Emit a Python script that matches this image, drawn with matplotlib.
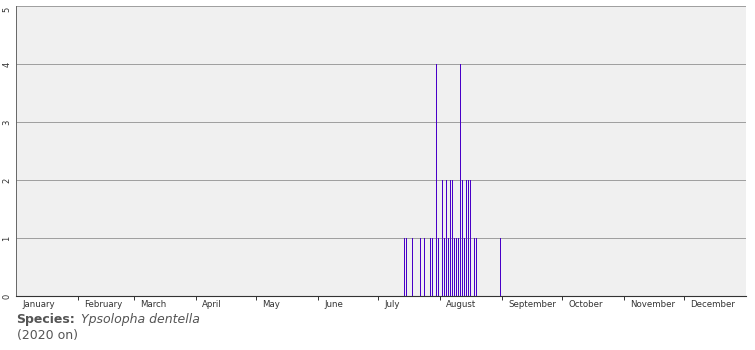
import matplotlib
matplotlib.use("Agg")
import matplotlib.pyplot as plt
from matplotlib.ticker import NullFormatter

# Data: day of year (1 = 1 January) and count of records
days = [195, 196, 199, 203, 205, 208, 209, 211, 212, 214, 215, 216, 217, 218,
        219, 220, 221, 222, 223, 224, 225, 226, 227, 228, 230, 231, 243]
counts = [1, 1, 1, 1, 1, 1, 1, 4, 1, 2, 1, 2, 1, 2,
          2, 1, 1, 1, 4, 2, 1, 2, 2, 2, 1, 1, 1]

months = ["January", "February", "March", "April", "May", "June", "July",
          "August", "September", "October", "November", "December"]
month_days = [31, 28, 31, 30, 31, 30, 31, 31, 30, 31, 30, 31]
y_ticks = [0, 1, 2, 3, 4, 5]

W, H = 755, 350
fig = plt.figure(figsize=(W / 100, H / 100), dpi=100)
fig.patch.set_facecolor("white")
x0, x1, ytop, ybot = 16, 746, 6, 296
ax = fig.add_axes([x0 / W, 1 - ybot / H, (x1 - x0) / W, (ybot - ytop) / H])
ax.set_facecolor("#f0f0f0")
ax.set_xlim(0, 365)
ax.set_ylim(0, 5)

for y in y_ticks[1:]:
    ax.axhline(y, color="#a0a0a0", lw=0.6, zorder=1, antialiased=False)

xs = [d - 1 for d in days]
ax.bar(xs, counts, width=0.5, align="edge", color="#4800c8", linewidth=0,
       antialiased=False, zorder=3)

for s in ["top", "right"]:
    ax.spines[s].set_visible(False)
ax.spines["left"].set_color("#666666")
ax.spines["left"].set_linewidth(0.7)
ax.spines["bottom"].set_color("#333333")
ax.spines["bottom"].set_linestyle((0, (1, 1)))
ax.spines["bottom"].set_linewidth(0.8)

# month boundaries as ticks
bounds = []
starts = []
acc = 0
for md in month_days:
    starts.append(acc)
    acc += md
    bounds.append(acc)
ax.set_xticks(bounds[:-1])
ax.xaxis.set_major_formatter(NullFormatter())
ax.tick_params(axis="x", direction="out", length=3, width=0.7, color="#333333")
ax.set_yticks([])

for m, s in zip(months, starts):
    ax.text(s + 3.2, -0.07, m, fontsize=6.2, color="#333333", ha="left", va="top",
            family="DejaVu Sans")

for y in y_ticks:
    ypix = ytop + (5 - y) * 58 + (3 if y == 5 else 0)
    fig.text(7 / W, 1 - ypix / H, str(y), rotation=90, fontsize=6,
             color="#333333", ha="center", va="center")

fig.text(16 / W, 1 - 320 / H, "Species:", fontsize=9, fontweight="bold",
         color="#555555", ha="left", va="center")
fig.text(81 / W, 1 - 320 / H, "Ypsolopha dentella", fontsize=9, style="italic",
         color="#555555", ha="left", va="center")
fig.text(17 / W, 1 - 335 / H, "(2020 on)", fontsize=9, color="#555555",
         ha="left", va="center")

fig.savefig("out.png", dpi=100)
